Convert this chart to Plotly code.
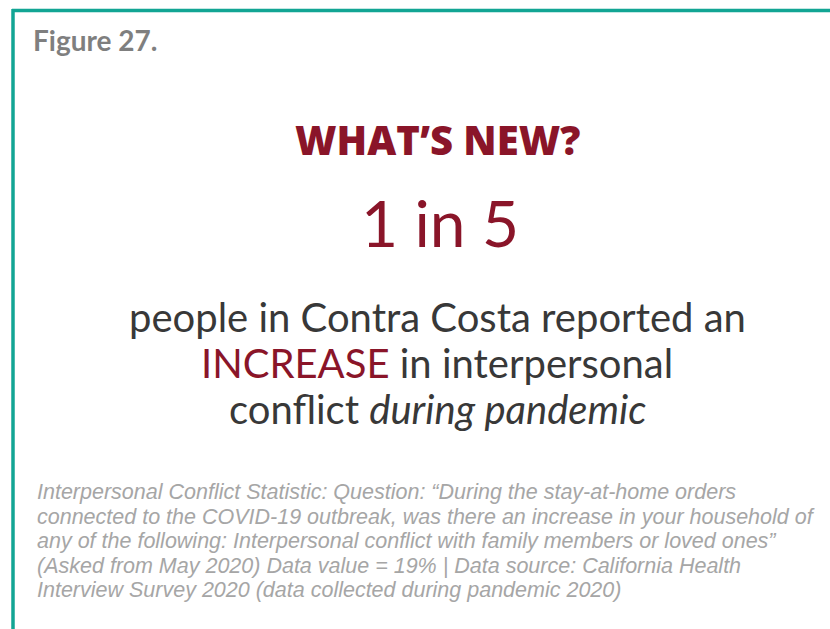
import plotly.graph_objects as go

W, H = 830, 629

# ---- content / data ----
figure_label = "Figure 27."
headline = "WHAT\u2019S NEW?"
ratio_numerator = [1]
ratio_denominator = [5]
data_value_pct = [19]
body_lines = [
    "people in Contra Costa reported an",
    "<span style='color:#8A1529'>INCREASE</span> in interpersonal",
    "conflict <i>during pandemic</i>",
]
footnote_lines = [
    "Interpersonal Conflict Statistic: Question: \u201cDuring the stay-at-home orders",
    "connected to the COVID-19 outbreak, was there an increase in your household of",
    "any of the following: Interpersonal conflict with family members or loved ones\u201d",
    "(Asked from May 2020) Data value = %d%% | Data source: California Health" % data_value_pct[0],
    "Interview Survey 2020 (data collected during pandemic 2020)",
]

RED = "#8A1529"
TEAL = "#12A594"
DARK = "#383838"
GREY = "#7F7F7F"
LIGHT = "#A6A6A6"


def px(x):
    return x / W


def py(y):
    return 1 - y / H


fig = go.Figure()
fig.add_trace(go.Scatter(x=[0, 1], y=[0, 1], mode="markers",
                         marker=dict(opacity=0), hoverinfo="skip", showlegend=False))

annotations = []
# Figure label
annotations.append(dict(text="<b>%s</b>" % figure_label, x=px(31), y=py(40),
                        xanchor="left", yanchor="middle",
                        font=dict(family="Lato", size=28, color=GREY)))
# Headline
annotations.append(dict(text=headline, x=px(437), y=py(139),
                        xanchor="center", yanchor="middle",
                        font=dict(family="Open Sans", size=40, color=RED, weight=800)))
# ratio
annotations.append(dict(text="%d in %d" % (ratio_numerator[0], ratio_denominator[0]),
                        x=px(440), y=py(223), xanchor="center", yanchor="middle",
                        font=dict(family="Lato", size=64, color=RED)))
# body
body_y = [317, 363, 409]
for t, yy in zip(body_lines, body_y):
    annotations.append(dict(text=t, x=px(437), y=py(yy), xanchor="center", yanchor="middle",
                            font=dict(family="Lato", size=40, color=DARK)))
# footnote
foot_y = [492, 517, 541, 566, 590]
for t, yy in zip(footnote_lines, foot_y):
    annotations.append(dict(text="<i>%s</i>" % t, x=px(35), y=py(yy), xanchor="left",
                            yanchor="middle",
                            font=dict(family="Liberation Sans", size=21.5, color=LIGHT)))

for a in annotations:
    a.update(xref="paper", yref="paper", showarrow=False)

shapes = [
    dict(type="line", xref="paper", yref="paper", x0=px(12), x1=px(830), y0=py(10.5), y1=py(10.5),
         line=dict(color=TEAL, width=3.5)),
    dict(type="line", xref="paper", yref="paper", x0=px(13), x1=px(13), y0=py(9), y1=py(629),
         line=dict(color=TEAL, width=3.5)),
]

fig.update_layout(
    width=W, height=H,
    margin=dict(l=0, r=0, t=0, b=0),
    paper_bgcolor="white", plot_bgcolor="white",
    xaxis=dict(visible=False, range=[0, 1], fixedrange=True),
    yaxis=dict(visible=False, range=[0, 1], fixedrange=True),
    annotations=annotations,
    shapes=shapes,
    showlegend=False,
)

fig.write_html("out.html", config={"displayModeBar": False},
               post_script="document.body.style.margin='0';document.body.style.overflow='hidden';")
